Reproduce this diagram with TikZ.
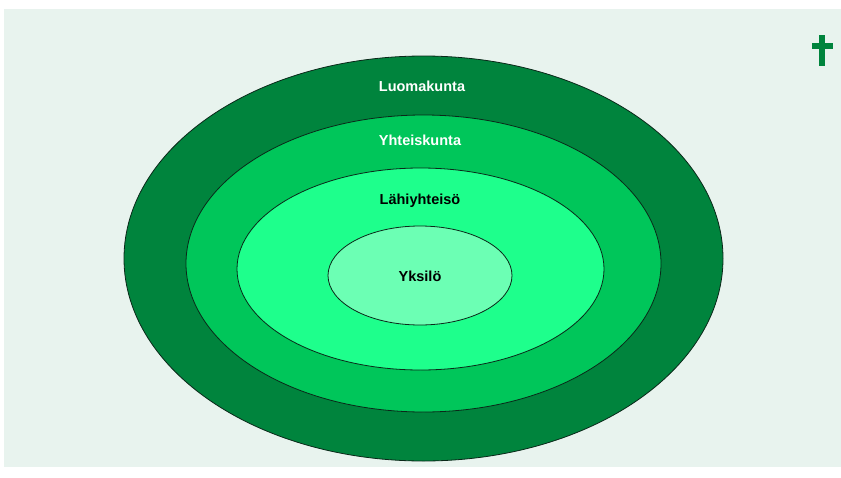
\documentclass[tikz,border=0pt]{standalone}
\usepackage{fontspec}
\setmainfont{Liberation Sans}
\usepackage{tikz}
\usetikzlibrary{shapes.geometric}

\definecolor{bgcol}{RGB}{232,243,238}
\definecolor{luomacol}{RGB}{0,132,61}
\definecolor{yhteiscol}{RGB}{0,198,90}
\definecolor{lahicol}{RGB}{30,255,140}
\definecolor{yksicol}{RGB}{108,255,180}
\definecolor{rimcol}{RGB}{10,40,25}

\tikzset{
  ring/.style={ellipse, draw=rimcol, line width=0.8pt, inner sep=0pt},
  label/.style={font=\fontsize{14.5}{16}\selectfont\bfseries, inner sep=0pt}
}

\begin{document}
\begin{tikzpicture}[x=1pt, y=-1pt]
    \useasboundingbox (0,0) rectangle (841,477);
    % Tausta
    \fill[bgcol] (4,9) rectangle (841,467);
    % Risti
    \fill[luomacol] (819,35) rectangle (825,66);
    \fill[luomacol] (812,43) rectangle (833,49);
    % Kehat
    \node[ring, fill=luomacol, minimum width=599pt, minimum height=405pt] (luoma) at (423.5,258.5) {};
    \node[ring, fill=yhteiscol, minimum width=475pt, minimum height=297pt] (yhteis) at (423.5,263.5) {};
    \node[ring, fill=lahicol, minimum width=367pt, minimum height=202pt] (lahi) at (420.5,269) {};
    \node[ring, fill=yksicol, minimum width=184pt, minimum height=99pt] (yksi) at (420,275.5) {};
    % Tekstit
    \node[label, text=white] (luomatxt) at (422,86) {Luomakunta};
    \node[label, text=white] (yhteistxt) at (420,140) {Yhteiskunta};
    \node[label, text=black] (lahitxt) at (420,201) {Lähiyhteisö};
    \node[label, text=black] (yksitxt) at (420,276) {Yksilö};
\end{tikzpicture}
\end{document}
